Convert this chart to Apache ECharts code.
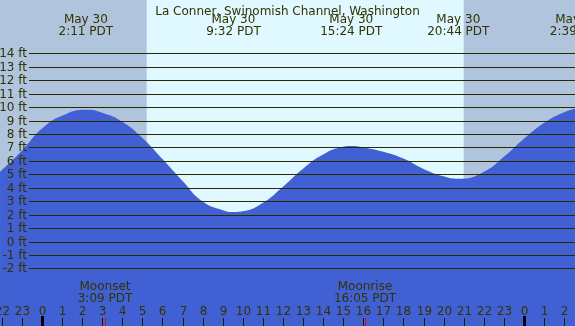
<!DOCTYPE html>
<html>
<head>
<meta charset="utf-8">
<script src="https://cdn.jsdelivr.net/npm/echarts@6/dist/echarts.min.js"></script>
<style>
  html, body { margin: 0; padding: 0; background: #e0f8ff; }
  #chart { width: 575px; height: 326px; }
</style>
</head>
<body>
<div id="chart"></div>
<script>
// hours are counted from May 30 00:00 PDT
const tideHours = [-2.09, -1, 0, 1, 2.18, 3, 4, 5, 6, 7, 8, 9, 9.53, 10, 11, 12, 13, 14, 15, 15.4,
  16, 17, 18, 19, 20, 20.73, 22, 23, 24, 25, 26, 26.65];
const tideFeet = [5.19, 6.75, 8.4, 9.35, 9.8, 9.58, 8.9, 7.7, 6.13, 4.5, 2.97, 2.33, 2.2, 2.25, 2.88, 4.08, 5.42, 6.47, 7.04, 7.1,
  7.0, 6.68, 6.17, 5.4, 4.85, 4.67, 5.18, 6.3, 7.65, 8.82, 9.62, 9.9];

const extremeHours = [2.183, 9.533, 15.4, 20.733, 26.65];
const extremeDates = ["May 30", "May 30", "May 30", "May 30", "May 31"];
const extremeTimes = ["2:11 PDT", "9:32 PDT", "15:24 PDT", "20:44 PDT", "2:39 PDT"];

const moonHours = [3.15, 16.083];
const moonNames = ["Moonset", "Moonrise"];
const moonTimes = ["3:09 PDT", "16:05 PDT"];

const sunriseHour = 5.22;
const sunsetHour = 21.0;

const footLevels = [14, 13, 12, 11, 10, 9, 8, 7, 6, 5, 4, 3, 2, 1, 0, -1, -2];
const hourTicks = [];
for (let h = -2; h <= 26; h++) hourTicks.push(h);

const TEXT = "#333300";
const FONT = "12px 'DejaVu Sans', sans-serif";

const bands = [
  [-3, sunriseHour, 0],
  [sunriseHour, sunsetHour, 1],
  [sunsetHour, 28, 0]
];

const chart = echarts.init(document.getElementById("chart"));

chart.setOption({
  animation: false,
  backgroundColor: "#e0f8ff",
  title: {
    text: "La Conner, Swinomish Channel, Washington",
    left: "center",
    top: 1,
    textStyle: { fontFamily: "DejaVu Sans", fontSize: 12, fontWeight: "normal", color: TEXT }
  },
  grid: { left: 0, right: 0, top: 0, bottom: 0 },
  xAxis: {
    type: "value",
    min: -2.092,
    max: 26.544,
    show: false
  },
  yAxis: {
    type: "value",
    min: -6.28,
    max: 17.96,
    show: false
  },
  series: [
    {
      // day / night shading
      type: "custom",
      z: 1,
      silent: true,
      data: bands,
      renderItem: function (params, api) {
        const x1 = api.coord([api.value(0), 0])[0];
        const x2 = api.coord([api.value(1), 0])[0];
        return {
          type: "rect",
          shape: { x: x1, y: 0, width: x2 - x1, height: 326 },
          style: { fill: api.value(2) ? "#e0f8ff" : "#b0c4de" }
        };
      }
    },
    {
      type: "line",
      z: 2,
      smooth: 0.5,
      showSymbol: false,
      silent: true,
      data: tideHours.map((h, i) => [h, tideFeet[i]]),
      lineStyle: { width: 0 },
      areaStyle: { color: "#4160d3", opacity: 1, origin: "start" }
    },
    {
      // foot lines and labels
      type: "custom",
      z: 3,
      silent: true,
      data: footLevels.map(v => [v]),
      renderItem: function (params, api) {
        const v = api.value(0);
        const y = Math.round(api.coord([0, v])[1]) + 0.5;
        return {
          type: "group",
          children: [
            { type: "line", shape: { x1: 29, y1: y, x2: 575, y2: y }, style: { stroke: "#2a2a00", lineWidth: 1 } },
            { type: "text", style: { text: v + " ft", x: 27, y: y, align: "right", verticalAlign: "middle", fill: TEXT, font: FONT } }
          ]
        };
      }
    },
    {
      // high / low time labels
      type: "custom",
      z: 4,
      silent: true,
      data: extremeHours.map((h, i) => [h, i]),
      renderItem: function (params, api) {
        const i = api.value(1);
        const x = api.coord([api.value(0), 0])[0];
        return {
          type: "group",
          children: [
            { type: "text", style: { text: extremeDates[i], x: x, y: 20, align: "center", verticalAlign: "middle", fill: TEXT, font: FONT } },
            { type: "text", style: { text: extremeTimes[i], x: x, y: 32, align: "center", verticalAlign: "middle", fill: TEXT, font: FONT } }
          ]
        };
      }
    },
    {
      // hour ticks
      type: "custom",
      z: 4,
      silent: true,
      data: hourTicks.map(h => [h]),
      renderItem: function (params, api) {
        const h = api.value(0);
        const x = Math.round(api.coord([h, 0])[0]);
        const midnight = ((h % 24) + 24) % 24 === 0;
        return {
          type: "group",
          children: [
            midnight
              ? { type: "rect", shape: { x: x - 1, y: 316, width: 3, height: 10 }, style: { fill: "#000000" } }
              : { type: "rect", shape: { x: x, y: 318, width: 1, height: 8 }, style: { fill: "#1a1a00" } },
            { type: "text", style: { text: String(((h % 24) + 24) % 24), x: x + 0.5, y: 312, align: "center", verticalAlign: "middle", fill: TEXT, font: FONT } }
          ]
        };
      }
    },
    {
      // moon events
      type: "custom",
      z: 4,
      silent: true,
      data: moonHours.map((h, i) => [h, i]),
      renderItem: function (params, api) {
        const i = api.value(1);
        const x = Math.round(api.coord([api.value(0), 0])[0]);
        return {
          type: "group",
          children: [
            { type: "rect", shape: { x: x, y: 318, width: 1, height: 8 }, style: { fill: "#ff0000" } },
            { type: "text", style: { text: moonNames[i], x: x, y: 287, align: "center", verticalAlign: "middle", fill: TEXT, font: FONT } },
            { type: "text", style: { text: moonTimes[i], x: x, y: 299, align: "center", verticalAlign: "middle", fill: TEXT, font: FONT } }
          ]
        };
      }
    }
  ]
});
</script>
</body>
</html>
